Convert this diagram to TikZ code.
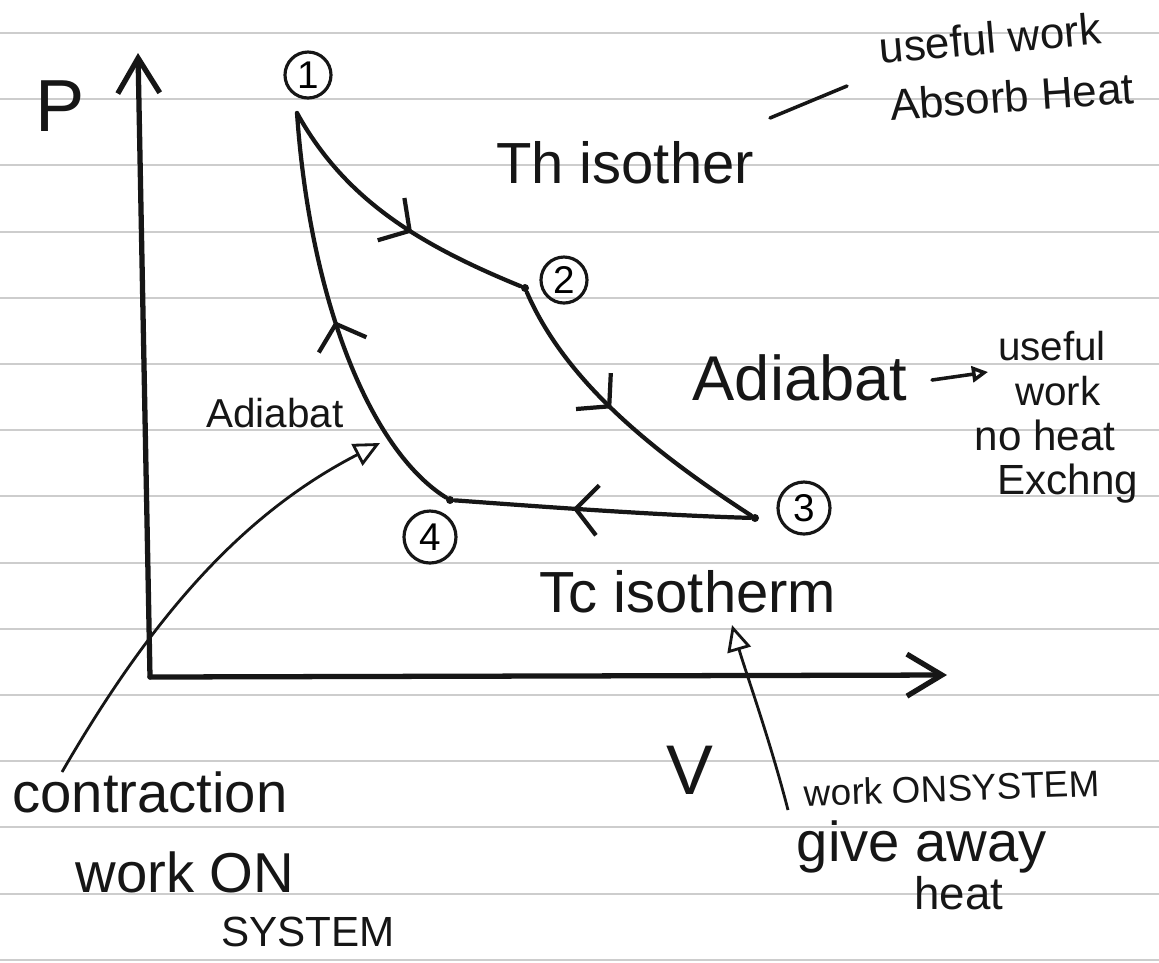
\documentclass[tikz,border=0pt]{standalone}
\usepackage{fontspec}
\setmainfont{Liberation Sans}
\usetikzlibrary{arrows.meta, decorations.markings}
\definecolor{PenInk}{RGB}{22,22,22}
\definecolor{RuleGray}{RGB}{205,205,205}

\begin{document}
\begin{tikzpicture}[x=0.1mm, y=-0.1mm,
    ink/.style={draw=PenInk, line width=1.2pt, line cap=round, line join=round},
    axis/.style={ink, line width=1.5pt, -{Straight Barb[length=3.5mm, width=4.2mm]}},
    midarr/.style={postaction={decorate}, decoration={markings,
        mark=at position #1 with {\arrow{Straight Barb[length=2.2mm, width=5mm]}}}},
    ptr/.style={draw=PenInk, line width=0.8pt, -{Triangle[open, length=2.6mm, width=2.4mm]}},
    dot/.style={circle, fill=PenInk, inner sep=0pt, minimum size=0.8mm},
    num/.style={circle, draw=PenInk, line width=0.9pt, inner sep=0pt,
                minimum size=4.6mm, font=\fontsize{11pt}{11pt}\selectfont},
    lbl/.style={text=PenInk, inner sep=0pt, font=\fontsize{#1pt}{#1pt}\selectfont}
  ]
  \useasboundingbox (0,0) rectangle (1159,962);
  \fill[white] (0,0) rectangle (1159,962);
  % ruled paper
  \foreach \k in {0,...,14}
    \draw[RuleGray, line width=0.6pt] (0,33+66.2*\k) -- (1159,33+66.2*\k);

  % axes
  \coordinate (O) at (150,677);
  \coordinate (ytip) at (138,53);
  \coordinate (xtip) at (947,675);
  \draw[axis] (O) -- (ytip);
  \draw[axis] (O) -- (xtip);
  \node[lbl=21] (P) at (60,106) {P};
  \node[lbl=20] (V) at (690,770) {V};

  % the cycle
  \coordinate (p1) at (297,113);
  \node[dot] (p2) at (525,288) {};
  \node[dot] (p3) at (755,518) {};
  \node[dot] (p4) at (450,500) {};
  \node[num] (n1) at (308,75) {1};
  \node[num] (n2) at (564,280) {2};
  \node[num, minimum size=5.2mm] (n3) at (804,508) {3};
  \node[num, minimum size=5.2mm] (n4) at (430,537) {4};

  \draw[ink, midarr=0.58] (p1) .. controls (345,200) and (420,245) .. (p2);
  \draw[ink, midarr=0.45] (p2) .. controls (565,380) and (650,450) .. (p3);
  \draw[ink, midarr=0.6]  (p3) .. controls (650,515) and (520,505) .. (p4);
  \draw[ink, midarr=0.5]  (p4) .. controls (370,450) and (310,300) .. (p1);

  % isotherms
  \node[lbl=16.5] (hiso) at (625,163) {Th isother};
  \node[lbl=16.5] (ciso) at (688,592) {Tc isotherm};
  \node[lbl=12.5, rotate=5] (useA) at (990,38) {useful work};
  \node[lbl=12.5, rotate=4] (useB) at (1012,96) {Absorb Heat};
  \coordinate (hl) at (770,118);
  \coordinate (hr) at (847,86);
  \draw[ink, line width=1pt] (hl) -- (hr);

  % adiabats
  \node[lbl=18] (adia) at (800,378) {Adiabat};
  \coordinate (aw) at (932,380);
  \coordinate (ae) at (988,372);
  \draw[ink, line width=1pt, -{Triangle[open, length=1.6mm, width=1.6mm]}] (aw) -- (ae);
  \node[lbl=11.5] (u1) at (1052,346) {useful};
  \node[lbl=11.5] (u2) at (1058,391) {work};
  \node[lbl=12] (u3) at (1045,435) {no heat};
  \node[lbl=12] (u4) at (1068,484) {Exchng};
  \node[lbl=11.5] (adia2) at (275,413) {Adiabat};

  % notes below
  \node[lbl=16] (contr) at (150,792) {contraction};
  \node[lbl=16] (wOn) at (185,872) {work ON};
  \node[lbl=12] (sys) at (308,932) {SYSTEM};
  \coordinate (cs) at (62,772);
  \coordinate (ct) at (380,443);
  \draw[ptr] (cs) .. controls (150,620) and (240,515) .. (ct);

  \node[lbl=10.5, rotate=2] (won) at (952,788) {work ONSYSTEM};
  \node[lbl=16] (give) at (922,847) {give away};
  \node[lbl=13] (heat) at (959,893) {heat};
  \coordinate (ws) at (788,810);
  \coordinate (wt) at (732,625);
  \draw[ptr] (ws) .. controls (770,740) and (745,670) .. (wt);
\end{tikzpicture}
\end{document}
